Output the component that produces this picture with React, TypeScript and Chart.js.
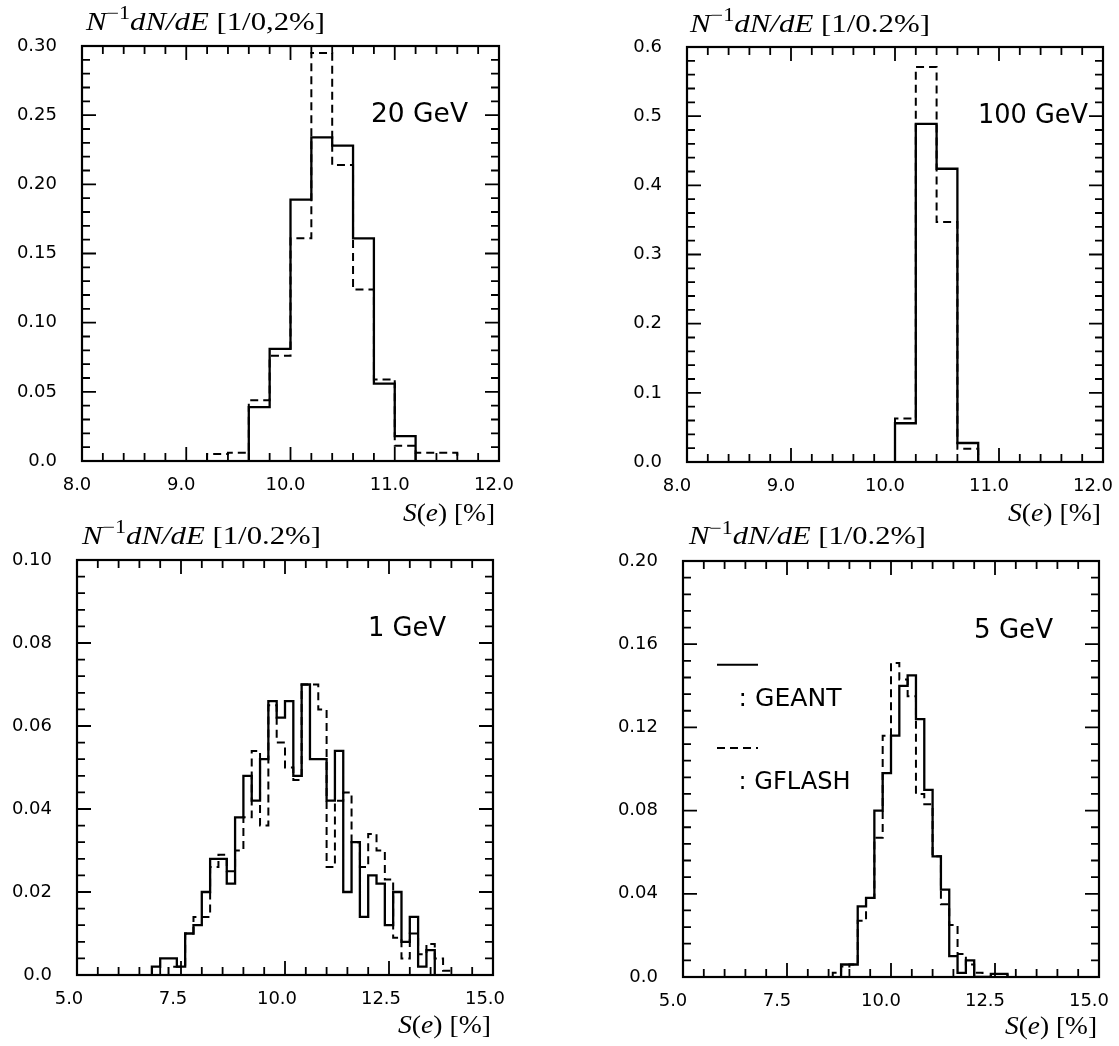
import React, { useEffect, useRef } from 'react';
import { Chart, registerables } from 'chart.js';

Chart.register(...registerables);

const W = 1119;
const H = 1046;
const BIN = 0.2;

// ---------------- data ----------------
// 20 GeV
const geant20Start = 9.6;
const geant20 = [0.039, 0.081, 0.189, 0.234, 0.228, 0.161, 0.056, 0.018];
const gflash20Start = 9.2;
const gflash20 = [0.005, 0.006, 0.044, 0.076, 0.161, 0.295, 0.214, 0.124, 0.059, 0.011, 0.006, 0.006];

// 100 GeV
const geant100Start = 10.0;
const geant100 = [0.056, 0.489, 0.424, 0.0275];
const gflash100Start = 10.0;
const gflash100 = [0.063, 0.571, 0.347, 0.019];

// 1 GeV
const geant1Start = 6.8;
const geant1 = [
  0.002, 0.004, 0.004, 0.002, 0.010, 0.012, 0.020, 0.028, 0.028, 0.022,
  0.038, 0.048, 0.042, 0.052, 0.066, 0.062, 0.066, 0.048, 0.070, 0.052,
  0.052, 0.042, 0.054, 0.020, 0.032, 0.014, 0.024, 0.022, 0.012, 0.020,
  0.008, 0.014, 0.002, 0.006,
];
const gflash1Start = 7.2;
const gflash1 = [
  0.002, 0.002, 0.010, 0.014, 0.014, 0.026, 0.029, 0.025, 0.030, 0.038,
  0.054, 0.036, 0.065, 0.056, 0.050, 0.047, 0.070, 0.070, 0.064, 0.026,
  0.042, 0.044, 0.032, 0.026, 0.034, 0.030, 0.023, 0.009, 0.004, 0.010,
  0.005, 0.0075, 0.004, 0.001,
];

// 5 GeV
const geant5Start = 8.8;
const geant5 = [
  0.006, 0.006, 0.034, 0.038, 0.080, 0.098, 0.116, 0.140, 0.145, 0.124,
  0.090, 0.058, 0.042, 0.010, 0.002, 0.008, 0, 0, 0.0015, 0.0015,
];
const gflash5Start = 8.6;
const gflash5 = [
  0.002, 0.005, 0.006, 0.027, 0.038, 0.067, 0.116, 0.151, 0.143, 0.135,
  0.088, 0.083, 0.058, 0.035, 0.025, 0.011, 0.006, 0.002, 0, 0.0015, 0.0015,
];

// tick labels
const xTicksHigh = [8, 9, 10, 11, 12];
const xTicksLow = [5, 7.5, 10, 12.5, 15];
const yTicks20 = [0, 0.05, 0.1, 0.15, 0.2, 0.25, 0.3];
const yTicks100 = [0, 0.1, 0.2, 0.3, 0.4, 0.5, 0.6];
const yTicks1 = [0, 0.02, 0.04, 0.06, 0.08, 0.1];
const yTicks5 = [0, 0.04, 0.08, 0.12, 0.16, 0.2];

// ---------------- helpers ----------------
function histPoints(start: number, vals: number[]) {
  const pts: { x: number; y: number }[] = [{ x: start, y: 0 }];
  vals.forEach((v, i) => pts.push({ x: +(start + i * BIN).toFixed(3), y: v }));
  pts.push({ x: +(start + vals.length * BIN).toFixed(3), y: 0 });
  return pts;
}

type Part = { t: string; style: 'i' | 'n' | 'sup' };

function drawRich(ctx: CanvasRenderingContext2D, parts: Part[], x: number, y: number, size: number, targetW: number, family: string, align: 'left' | 'right' = 'left') {
  const fontOf = (p: Part) =>
    p.style === 'i' ? `italic ${size}px ${family}` : p.style === 'sup' ? `${Math.round(size * 0.7)}px ${family}` : `${size}px ${family}`;
  let total = 0;
  const widths = parts.map((p) => {
    ctx.font = fontOf(p);
    const w = ctx.measureText(p.t).width;
    total += w;
    return w;
  });
  const sx = targetW / total;
  ctx.save();
  ctx.translate(align === 'left' ? x : x - targetW, y);
  ctx.scale(sx, 1);
  ctx.fillStyle = '#000';
  ctx.textBaseline = 'alphabetic';
  ctx.textAlign = 'left';
  let cx = 0;
  parts.forEach((p, i) => {
    ctx.font = fontOf(p);
    ctx.fillText(p.t, cx, p.style === 'sup' ? -size * 0.42 : 0);
    cx += widths[i];
  });
  ctx.restore();
}

const SERIF = '"Liberation Serif", "DejaVu Serif", serif';
const SANS = '"DejaVu Sans", sans-serif';

type Cfg = {
  id: string;
  area: { l: number; r: number; t: number; b: number };
  xMin: number; xMax: number; xMinor: number; xMajor: number; xTicks: number[]; xLabelOffset: number;
  yMin: number; yMax: number; yMinor: number; yMajor: number; yTicks: number[]; yDec: number;
  geantStart: number; geant: number[]; gflashStart: number; gflash: number[];
  comma: boolean;
  titlePos: { x: number; y: number; w: number };
  xTitlePos: { x: number; y: number; w: number };
  energy: string; energyPos: { x: number; y: number; w: number };
  legend: boolean;
};

const panels: Cfg[] = [
  {
    id: 'tl', area: { l: 82, r: 499, t: 46, b: 461 },
    xMin: 8, xMax: 12, xMinor: 0.2, xMajor: 1, xTicks: xTicksHigh, xLabelOffset: -5,
    yMin: 0, yMax: 0.3, yMinor: 0.01, yMajor: 0.05, yTicks: yTicks20, yDec: 2,
    geantStart: geant20Start, geant: geant20, gflashStart: gflash20Start, gflash: gflash20,
    comma: true, titlePos: { x: 86, y: 29.5, w: 239 }, xTitlePos: { x: 495, y: 521, w: 92 },
    energy: '20 GeV', energyPos: { x: 371, y: 121.7, w: 97 }, legend: false,
  },
  {
    id: 'tr', area: { l: 687, r: 1103, t: 47, b: 462 },
    xMin: 8, xMax: 12, xMinor: 0.2, xMajor: 1, xTicks: xTicksHigh, xLabelOffset: -10,
    yMin: 0, yMax: 0.6, yMinor: 0.02, yMajor: 0.1, yTicks: yTicks100, yDec: 1,
    geantStart: geant100Start, geant: geant100, gflashStart: gflash100Start, gflash: gflash100,
    comma: false, titlePos: { x: 690, y: 31.5, w: 240 }, xTitlePos: { x: 1101, y: 521, w: 93 },
    energy: '100 GeV', energyPos: { x: 978, y: 123, w: 110 }, legend: false,
  },
  {
    id: 'bl', area: { l: 77, r: 493, t: 560, b: 975 },
    xMin: 5, xMax: 15, xMinor: 0.5, xMajor: 2.5, xTicks: xTicksLow, xLabelOffset: -8,
    yMin: 0, yMax: 0.1, yMinor: 0.004, yMajor: 0.02, yTicks: yTicks1, yDec: 2,
    geantStart: geant1Start, geant: geant1, gflashStart: gflash1Start, gflash: gflash1,
    comma: false, titlePos: { x: 82, y: 543.5, w: 239 }, xTitlePos: { x: 491, y: 1033, w: 93 },
    energy: '1 GeV', energyPos: { x: 368, y: 635.7, w: 78 }, legend: false,
  },
  {
    id: 'br', area: { l: 683, r: 1099, t: 561, b: 977 },
    xMin: 5, xMax: 15, xMinor: 0.5, xMajor: 2.5, xTicks: xTicksLow, xLabelOffset: -10,
    yMin: 0, yMax: 0.2, yMinor: 0.008, yMajor: 0.04, yTicks: yTicks5, yDec: 2,
    geantStart: geant5Start, geant: geant5, gflashStart: gflash5Start, gflash: gflash5,
    comma: false, titlePos: { x: 689, y: 544, w: 237 }, xTitlePos: { x: 1097, y: 1034, w: 92 },
    energy: '5 GeV', energyPos: { x: 974, y: 637.5, w: 79 }, legend: true,
  },
];

const YW = 70;
const XH = 40;
const MAJ = 14;
const MIN = 8;

function isMultiple(v: number, step: number) {
  const r = v / step;
  return Math.abs(r - Math.round(r)) < 1e-6;
}

function makePlugin(cfg: Cfg) {
  return {
    id: 'deco_' + cfg.id,
    afterDatasetsDraw(chart: any) {
      const { ctx, chartArea: a } = chart;
      const xs = chart.scales.x;
      const ys = chart.scales.y;
      ctx.save();
      ctx.strokeStyle = '#000';
      ctx.lineWidth = 1.8;
      ctx.beginPath();
      const nx = Math.round((cfg.xMax - cfg.xMin) / cfg.xMinor);
      for (let i = 1; i < nx; i++) {
        const v = cfg.xMin + i * cfg.xMinor;
        const len = isMultiple(v, cfg.xMajor) ? MAJ : MIN;
        const px = xs.getPixelForValue(v);
        ctx.moveTo(px, a.bottom);
        ctx.lineTo(px, a.bottom - len);
        ctx.moveTo(px, a.top);
        ctx.lineTo(px, a.top + len);
      }
      const ny = Math.round((cfg.yMax - cfg.yMin) / cfg.yMinor);
      for (let i = 1; i < ny; i++) {
        const v = cfg.yMin + i * cfg.yMinor;
        const len = isMultiple(v, cfg.yMajor) ? MAJ : MIN;
        const py = ys.getPixelForValue(v);
        ctx.moveTo(a.left, py);
        ctx.lineTo(a.left + len, py);
        ctx.moveTo(a.right, py);
        ctx.lineTo(a.right - len, py);
      }
      ctx.stroke();
      ctx.lineWidth = 2.2;
      ctx.strokeRect(a.left, a.top, a.right - a.left, a.bottom - a.top);
      ctx.restore();
    },
    afterDraw(chart: any) {
      const ctx: CanvasRenderingContext2D = chart.ctx;
      const tp = cfg.titlePos;
      drawRich(ctx, [
        { t: 'N', style: 'i' },
        { t: '\u22121', style: 'sup' },
        { t: 'dN/dE', style: 'i' },
        { t: cfg.comma ? ' [1/0,2%]' : ' [1/0.2%]', style: 'n' },
      ], tp.x, tp.y, 25, tp.w, SERIF);
      const xp = cfg.xTitlePos;
      drawRich(ctx, [
        { t: 'S', style: 'i' },
        { t: '(', style: 'n' },
        { t: 'e', style: 'i' },
        { t: ') [%]', style: 'n' },
      ], xp.x, xp.y, 25, xp.w, SERIF, 'right');
      const ep = cfg.energyPos;
      drawRich(ctx, [{ t: cfg.energy, style: 'n' }], ep.x, ep.y, 27, ep.w, SANS);
      if (cfg.legend) {
        ctx.save();
        ctx.strokeStyle = '#000';
        ctx.lineWidth = 2;
        ctx.beginPath();
        ctx.moveTo(717, 664.8);
        ctx.lineTo(758, 664.8);
        ctx.stroke();
        ctx.setLineDash([8, 5]);
        ctx.beginPath();
        ctx.moveTo(717, 748);
        ctx.lineTo(758, 748);
        ctx.stroke();
        ctx.restore();
        drawRich(ctx, [{ t: ': GEANT', style: 'n' }], 738.6, 705.6, 24, 103, SANS);
        drawRich(ctx, [{ t: ': GFLASH', style: 'n' }], 738.6, 789, 24, 112, SANS);
      }
    },
  };
}

function Panel({ cfg }: { cfg: Cfg }) {
  const ref = useRef<HTMLCanvasElement>(null);
  useEffect(() => {
    const a = cfg.area;
    const chart = new Chart(ref.current as HTMLCanvasElement, {
      type: 'line',
      data: {
        datasets: [
          {
            label: 'GEANT',
            data: histPoints(cfg.geantStart, cfg.geant),
            borderColor: '#000',
            borderWidth: 2.3,
            stepped: 'before',
            pointRadius: 0,
            fill: false,
          } as any,
          {
            label: 'GFLASH',
            data: histPoints(cfg.gflashStart, cfg.gflash),
            borderColor: '#000',
            borderWidth: 2,
            borderDash: [8, 5],
            stepped: 'before',
            pointRadius: 0,
            fill: false,
          } as any,
        ],
      },
      options: {
        animation: false,
        responsive: false,
        events: [],
        layout: {
          padding: { left: a.l - YW, right: W - a.r, top: a.t, bottom: H - a.b - XH },
        },
        plugins: {
          legend: { display: false },
          tooltip: { enabled: false },
          title: { display: false },
        },
        scales: {
          x: {
            type: 'linear',
            min: cfg.xMin,
            max: cfg.xMax,
            grid: { display: false, drawTicks: false },
            border: { display: false },
            ticks: {
              color: '#000',
              font: { family: SANS, size: 18 },
              padding: 13.5,
              labelOffset: cfg.xLabelOffset,
              maxRotation: 0,
              minRotation: 0,
              autoSkip: false,
              callback: (v: any) => Number(v).toFixed(1),
            },
            afterBuildTicks: (s: any) => {
              s.ticks = cfg.xTicks.map((v) => ({ value: v }));
            },
            afterFit: (s: any) => {
              s.height = XH;
              s.paddingLeft = 0;
              s.paddingRight = 0;
            },
          },
          y: {
            type: 'linear',
            min: cfg.yMin,
            max: cfg.yMax,
            grid: { display: false, drawTicks: false },
            border: { display: false },
            ticks: {
              color: '#000',
              font: { family: SANS, size: 18 },
              padding: 25,
              autoSkip: false,
              callback: (v: any) => (Number(v) === 0 ? '0.0' : Number(v).toFixed(cfg.yDec)),
            },
            afterBuildTicks: (s: any) => {
              s.ticks = cfg.yTicks.map((v) => ({ value: v }));
            },
            afterFit: (s: any) => {
              s.width = YW;
              s.paddingTop = 0;
              s.paddingBottom = 0;
            },
          },
        },
      } as any,
      plugins: [makePlugin(cfg) as any],
    });
    return () => chart.destroy();
  }, [cfg]);
  return (
    <canvas
      ref={ref}
      width={W}
      height={H}
      style={{ position: 'absolute', left: 0, top: 0, width: W, height: H }}
    />
  );
}

export default function App() {
  return (
    <div style={{ position: 'absolute', left: 0, top: 0, width: W, height: H, background: '#fff' }}>
      {panels.map((p) => (
        <Panel key={p.id} cfg={p} />
      ))}
    </div>
  );
}
